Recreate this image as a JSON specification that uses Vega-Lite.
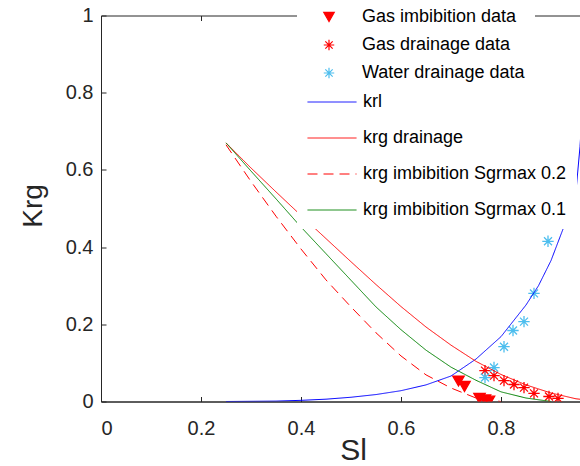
{
  "$schema": "https://vega.github.io/schema/vega-lite/v6.json",
  "width": 480,
  "height": 386,
  "autosize": {"type": "none"},
  "padding": {"left": 101, "top": 15.5, "right": 0, "bottom": 64.5},
  "background": "white",
  "config": {
    "font": "Liberation Sans",
    "view": {"stroke": "#262626", "strokeWidth": 1},
    "axis": {
      "grid": false,
      "domainColor": "#262626",
      "tickColor": "#262626",
      "labelColor": "#262626",
      "titleColor": "#262626",
      "labelFont": "Liberation Sans",
      "titleFont": "Liberation Sans",
      "labelFontSize": 20,
      "titleFontWeight": "normal",
      "tickSize": -5,
      "labelAngle": 0
    },
    "legend": {
      "labelFont": "Liberation Sans",
      "labelFontSize": 18,
      "labelColor": "#000000",
      "labelLimit": 400
    }
  },
  "datasets": {
    "points": [
      {"S": 0.715, "K": 0.053, "series": "Gas imbibition data"},
      {"S": 0.727, "K": 0.039, "series": "Gas imbibition data"},
      {"S": 0.757, "K": 0.008, "series": "Gas imbibition data"},
      {"S": 0.768, "K": 0.004, "series": "Gas imbibition data"},
      {"S": 0.776, "K": 0.001, "series": "Gas imbibition data"},
      {"S": 0.768, "K": 0.080, "series": "Gas drainage data"},
      {"S": 0.786, "K": 0.067, "series": "Gas drainage data"},
      {"S": 0.806, "K": 0.054, "series": "Gas drainage data"},
      {"S": 0.826, "K": 0.044, "series": "Gas drainage data"},
      {"S": 0.846, "K": 0.036, "series": "Gas drainage data"},
      {"S": 0.866, "K": 0.021, "series": "Gas drainage data"},
      {"S": 0.896, "K": 0.013, "series": "Gas drainage data"},
      {"S": 0.914, "K": 0.008, "series": "Gas drainage data"},
      {"S": 0.894, "K": 0.415, "series": "Water drainage data"},
      {"S": 0.866, "K": 0.280, "series": "Water drainage data"},
      {"S": 0.846, "K": 0.207, "series": "Water drainage data"},
      {"S": 0.824, "K": 0.184, "series": "Water drainage data"},
      {"S": 0.806, "K": 0.142, "series": "Water drainage data"},
      {"S": 0.786, "K": 0.088, "series": "Water drainage data"},
      {"S": 0.768, "K": 0.062, "series": "Water drainage data"}
    ],
    "curves": [
      {"S": 0.25, "K": 0.0, "curve": "krl"},
      {"S": 0.30, "K": 0.0005, "curve": "krl"},
      {"S": 0.35, "K": 0.001, "curve": "krl"},
      {"S": 0.40, "K": 0.003, "curve": "krl"},
      {"S": 0.45, "K": 0.006, "curve": "krl"},
      {"S": 0.50, "K": 0.011, "curve": "krl"},
      {"S": 0.55, "K": 0.018, "curve": "krl"},
      {"S": 0.60, "K": 0.028, "curve": "krl"},
      {"S": 0.65, "K": 0.043, "curve": "krl"},
      {"S": 0.70, "K": 0.066, "curve": "krl"},
      {"S": 0.75, "K": 0.110, "curve": "krl"},
      {"S": 0.80, "K": 0.168, "curve": "krl"},
      {"S": 0.85, "K": 0.250, "curve": "krl"},
      {"S": 0.875, "K": 0.300, "curve": "krl"},
      {"S": 0.90, "K": 0.365, "curve": "krl"},
      {"S": 0.925, "K": 0.450, "curve": "krl"},
      {"S": 0.95, "K": 0.545, "curve": "krl"},
      {"S": 0.958, "K": 0.660, "curve": "krl"},
      {"S": 0.97, "K": 0.900, "curve": "krl"},
      {"S": 0.25, "K": 0.670, "curve": "krg drainage"},
      {"S": 0.30, "K": 0.605, "curve": "krg drainage"},
      {"S": 0.35, "K": 0.543, "curve": "krg drainage"},
      {"S": 0.40, "K": 0.482, "curve": "krg drainage"},
      {"S": 0.45, "K": 0.422, "curve": "krg drainage"},
      {"S": 0.50, "K": 0.362, "curve": "krg drainage"},
      {"S": 0.55, "K": 0.303, "curve": "krg drainage"},
      {"S": 0.60, "K": 0.246, "curve": "krg drainage"},
      {"S": 0.65, "K": 0.193, "curve": "krg drainage"},
      {"S": 0.70, "K": 0.146, "curve": "krg drainage"},
      {"S": 0.75, "K": 0.104, "curve": "krg drainage"},
      {"S": 0.80, "K": 0.070, "curve": "krg drainage"},
      {"S": 0.85, "K": 0.043, "curve": "krg drainage"},
      {"S": 0.90, "K": 0.022, "curve": "krg drainage"},
      {"S": 0.95, "K": 0.007, "curve": "krg drainage"},
      {"S": 1.0, "K": 0.0, "curve": "krg drainage"},
      {"S": 0.25, "K": 0.665, "curve": "krg imbibition Sgrmax 0.2"},
      {"S": 0.30, "K": 0.570, "curve": "krg imbibition Sgrmax 0.2"},
      {"S": 0.35, "K": 0.480, "curve": "krg imbibition Sgrmax 0.2"},
      {"S": 0.40, "K": 0.395, "curve": "krg imbibition Sgrmax 0.2"},
      {"S": 0.45, "K": 0.315, "curve": "krg imbibition Sgrmax 0.2"},
      {"S": 0.50, "K": 0.245, "curve": "krg imbibition Sgrmax 0.2"},
      {"S": 0.55, "K": 0.178, "curve": "krg imbibition Sgrmax 0.2"},
      {"S": 0.60, "K": 0.118, "curve": "krg imbibition Sgrmax 0.2"},
      {"S": 0.65, "K": 0.069, "curve": "krg imbibition Sgrmax 0.2"},
      {"S": 0.70, "K": 0.035, "curve": "krg imbibition Sgrmax 0.2"},
      {"S": 0.75, "K": 0.009, "curve": "krg imbibition Sgrmax 0.2"},
      {"S": 0.80, "K": 0.0, "curve": "krg imbibition Sgrmax 0.2"},
      {"S": 0.25, "K": 0.670, "curve": "krg imbibition Sgrmax 0.1"},
      {"S": 0.30, "K": 0.597, "curve": "krg imbibition Sgrmax 0.1"},
      {"S": 0.35, "K": 0.525, "curve": "krg imbibition Sgrmax 0.1"},
      {"S": 0.40, "K": 0.452, "curve": "krg imbibition Sgrmax 0.1"},
      {"S": 0.45, "K": 0.383, "curve": "krg imbibition Sgrmax 0.1"},
      {"S": 0.50, "K": 0.314, "curve": "krg imbibition Sgrmax 0.1"},
      {"S": 0.55, "K": 0.245, "curve": "krg imbibition Sgrmax 0.1"},
      {"S": 0.60, "K": 0.186, "curve": "krg imbibition Sgrmax 0.1"},
      {"S": 0.65, "K": 0.133, "curve": "krg imbibition Sgrmax 0.1"},
      {"S": 0.70, "K": 0.089, "curve": "krg imbibition Sgrmax 0.1"},
      {"S": 0.75, "K": 0.055, "curve": "krg imbibition Sgrmax 0.1"},
      {"S": 0.80, "K": 0.025, "curve": "krg imbibition Sgrmax 0.1"},
      {"S": 0.85, "K": 0.009, "curve": "krg imbibition Sgrmax 0.1"},
      {"S": 0.90, "K": 0.0, "curve": "krg imbibition Sgrmax 0.1"}
    ]
  },
  "resolve": {"axis": {"x": "independent"}},
  "layer": [
    {
      "data": {"name": "points"},
      "mark": {"type": "point", "filled": true, "strokeWidth": 1.3, "size": 130, "clip": true, "opacity": 1},
      "encoding": {
        "x": {
          "field": "S", "type": "quantitative",
          "scale": {"domain": [0, 0.96], "nice": false, "zero": false},
          "axis": {"orient": "bottom", "values": [0, 0.2, 0.4, 0.6, 0.8], "format": "~g", "labelPadding": 22, "title": "Sl", "titleFontSize": 30, "titleX": 252, "titleY": 58, "titleBaseline": "alphabetic", "titleAlign": "center"}
        },
        "y": {
          "field": "K", "type": "quantitative",
          "scale": {"domain": [0, 1], "nice": false},
          "axis": {"values": [0, 0.2, 0.4, 0.6, 0.8, 1], "format": "~g", "labelPadding": 13, "title": "Krg", "titleFontSize": 28, "titleAngle": -90, "titleX": -60, "titleY": 190, "titleBaseline": "alphabetic", "titleAlign": "center"}
        },
        "shape": {
          "field": "series", "type": "nominal",
          "scale": {"domain": ["Gas imbibition data", "Gas drainage data", "Water drainage data"], "range": ["triangle-down", "M-1,0L1,0M0,-1L0,1M-0.7,-0.7L0.7,0.7M-0.7,0.7L0.7,-0.7", "M-1,0L1,0M0,-1L0,1M-0.7,-0.7L0.7,0.7M-0.7,0.7L0.7,-0.7"]},
          "legend": {"orient": "none", "legendX": 196, "legendY": -17.5, "title": null, "padding": 10, "fillColor": "white", "symbolSize": 110, "symbolOffset": 13, "labelOffset": 24, "rowPadding": 10, "symbolStrokeWidth": 1.2, "zindex": 3, "labelExpr": "datum.label + '\u00a0\u00a0\u00a0\u00a0\u00a0\u00a0\u00a0\u00a0\u00a0'"}
        },
        "fill": {
          "field": "series", "type": "nominal",
          "scale": {"domain": ["Gas imbibition data", "Gas drainage data", "Water drainage data"], "range": ["#ff0000", "#ff0000", "#4dbeee"]},
          "legend": {"orient": "none", "legendX": 196, "legendY": -17.5, "title": null, "padding": 10, "fillColor": "white", "symbolSize": 110, "symbolOffset": 13, "labelOffset": 24, "rowPadding": 10, "symbolStrokeWidth": 1.2, "zindex": 3, "labelExpr": "datum.label + '\u00a0\u00a0\u00a0\u00a0\u00a0\u00a0\u00a0\u00a0\u00a0'"}
        },
        "stroke": {
          "field": "series", "type": "nominal",
          "scale": {"domain": ["Gas imbibition data", "Gas drainage data", "Water drainage data"], "range": ["#ff0000", "#ff0000", "#4dbeee"]},
          "legend": {"orient": "none", "legendX": 196, "legendY": -17.5, "title": null, "padding": 10, "fillColor": "white", "symbolSize": 110, "symbolOffset": 13, "labelOffset": 24, "rowPadding": 10, "symbolStrokeWidth": 1.2, "zindex": 3, "labelExpr": "datum.label + '\u00a0\u00a0\u00a0\u00a0\u00a0\u00a0\u00a0\u00a0\u00a0'"}
        }
      }
    },
    {
      "data": {"name": "curves"},
      "mark": {"type": "line", "strokeWidth": 1, "clip": true},
      "encoding": {
        "x": {
          "field": "S", "type": "quantitative",
          "scale": {"domain": [0, 0.96], "nice": false, "zero": false},
          "axis": {"orient": "top", "values": [0.2, 0.4, 0.6, 0.8], "labels": false, "domain": false, "title": null}
        },
        "y": {
          "field": "K", "type": "quantitative",
          "scale": {"domain": [0, 1], "nice": false},
          "axis": {"values": [0, 0.2, 0.4, 0.6, 0.8, 1], "format": "~g", "labelPadding": 13, "title": "Krg", "titleFontSize": 28, "titleAngle": -90, "titleX": -60, "titleY": 190, "titleBaseline": "alphabetic", "titleAlign": "center"}
        },
        "color": {
          "field": "curve", "type": "nominal",
          "scale": {"domain": ["krl", "krg drainage", "krg imbibition Sgrmax 0.2", "krg imbibition Sgrmax 0.1"], "range": ["#0000ff", "#ff0000", "#ff0000", "#008000"]},
          "legend": {"orient": "none", "legendX": 196, "legendY": 51.5, "title": null, "padding": 10, "fillColor": "white", "symbolType": "stroke", "symbolSize": 2401, "symbolStrokeWidth": 1, "labelOffset": 6, "rowPadding": 2, "zindex": 2}
        },
        "strokeDash": {
          "field": "curve", "type": "nominal",
          "scale": {"domain": ["krl", "krg drainage", "krg imbibition Sgrmax 0.2", "krg imbibition Sgrmax 0.1"], "range": [[1, 0], [1, 0], [10, 6], [1, 0]]},
          "legend": {"orient": "none", "legendX": 196, "legendY": 51.5, "title": null, "padding": 10, "fillColor": "white", "symbolType": "stroke", "symbolSize": 2401, "symbolStrokeWidth": 1, "labelOffset": 6, "rowPadding": 2, "zindex": 2}
        }
      }
    }
  ]
}
